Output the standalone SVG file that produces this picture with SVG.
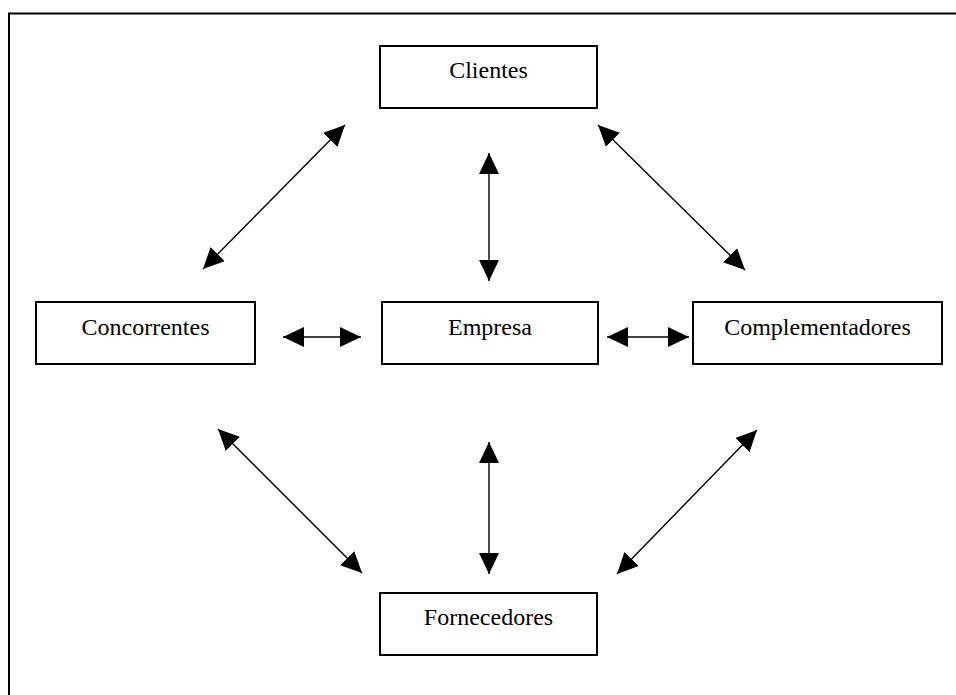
<svg xmlns="http://www.w3.org/2000/svg" width="956" height="695" viewBox="0 0 956 695">
<style>
.box{fill:#fff;stroke:#000;stroke-width:2}
.lbl{font-family:"Liberation Serif","Times New Roman",serif;font-size:24px;fill:#000;text-anchor:middle}
.con{stroke:#000;stroke-width:1.4;fill:none;marker-start:url(#ah);marker-end:url(#ah)}
</style>
<defs>
<marker id="ah" markerUnits="userSpaceOnUse" markerWidth="22" markerHeight="21" refX="21" refY="10" orient="auto-start-reverse" viewBox="0 0 22 21">
<path d="M0,0 L21,10 L0,20 z" fill="#000"/>
</marker>
</defs>
<rect width="956" height="695" fill="#fff"/>
<path d="M9,695 L9,13.5 L956,13.5" fill="none" stroke="#000" stroke-width="2"/>
<g id="clientes"><rect class="box" x="380" y="46" width="217" height="62"/><text class="lbl" x="488.5" y="78">Clientes</text></g>
<g id="concorrentes"><rect class="box" x="36" y="302" width="219" height="62"/><text class="lbl" x="145.5" y="335">Concorrentes</text></g>
<g id="empresa"><rect class="box" x="382" y="302" width="216" height="62"/><text class="lbl" x="490" y="335">Empresa</text></g>
<g id="complementadores"><rect class="box" x="693" y="302" width="249" height="62"/><text class="lbl" x="817.5" y="335">Complementadores</text></g>
<g id="fornecedores"><rect class="box" x="380" y="593" width="217" height="62"/><text class="lbl" x="488.5" y="625">Fornecedores</text></g>
<g id="connectors">
<line class="con" x1="345" y1="125" x2="203" y2="269"/>
<line class="con" x1="598" y1="125" x2="745" y2="270"/>
<line class="con" x1="489" y1="153" x2="489" y2="281"/>
<line class="con" x1="283" y1="337" x2="361" y2="337"/>
<line class="con" x1="607" y1="337" x2="689" y2="337"/>
<line class="con" x1="218" y1="429" x2="362" y2="573"/>
<line class="con" x1="489" y1="442" x2="489" y2="574"/>
<line class="con" x1="757" y1="430" x2="617" y2="574"/>
</g>
</svg>
